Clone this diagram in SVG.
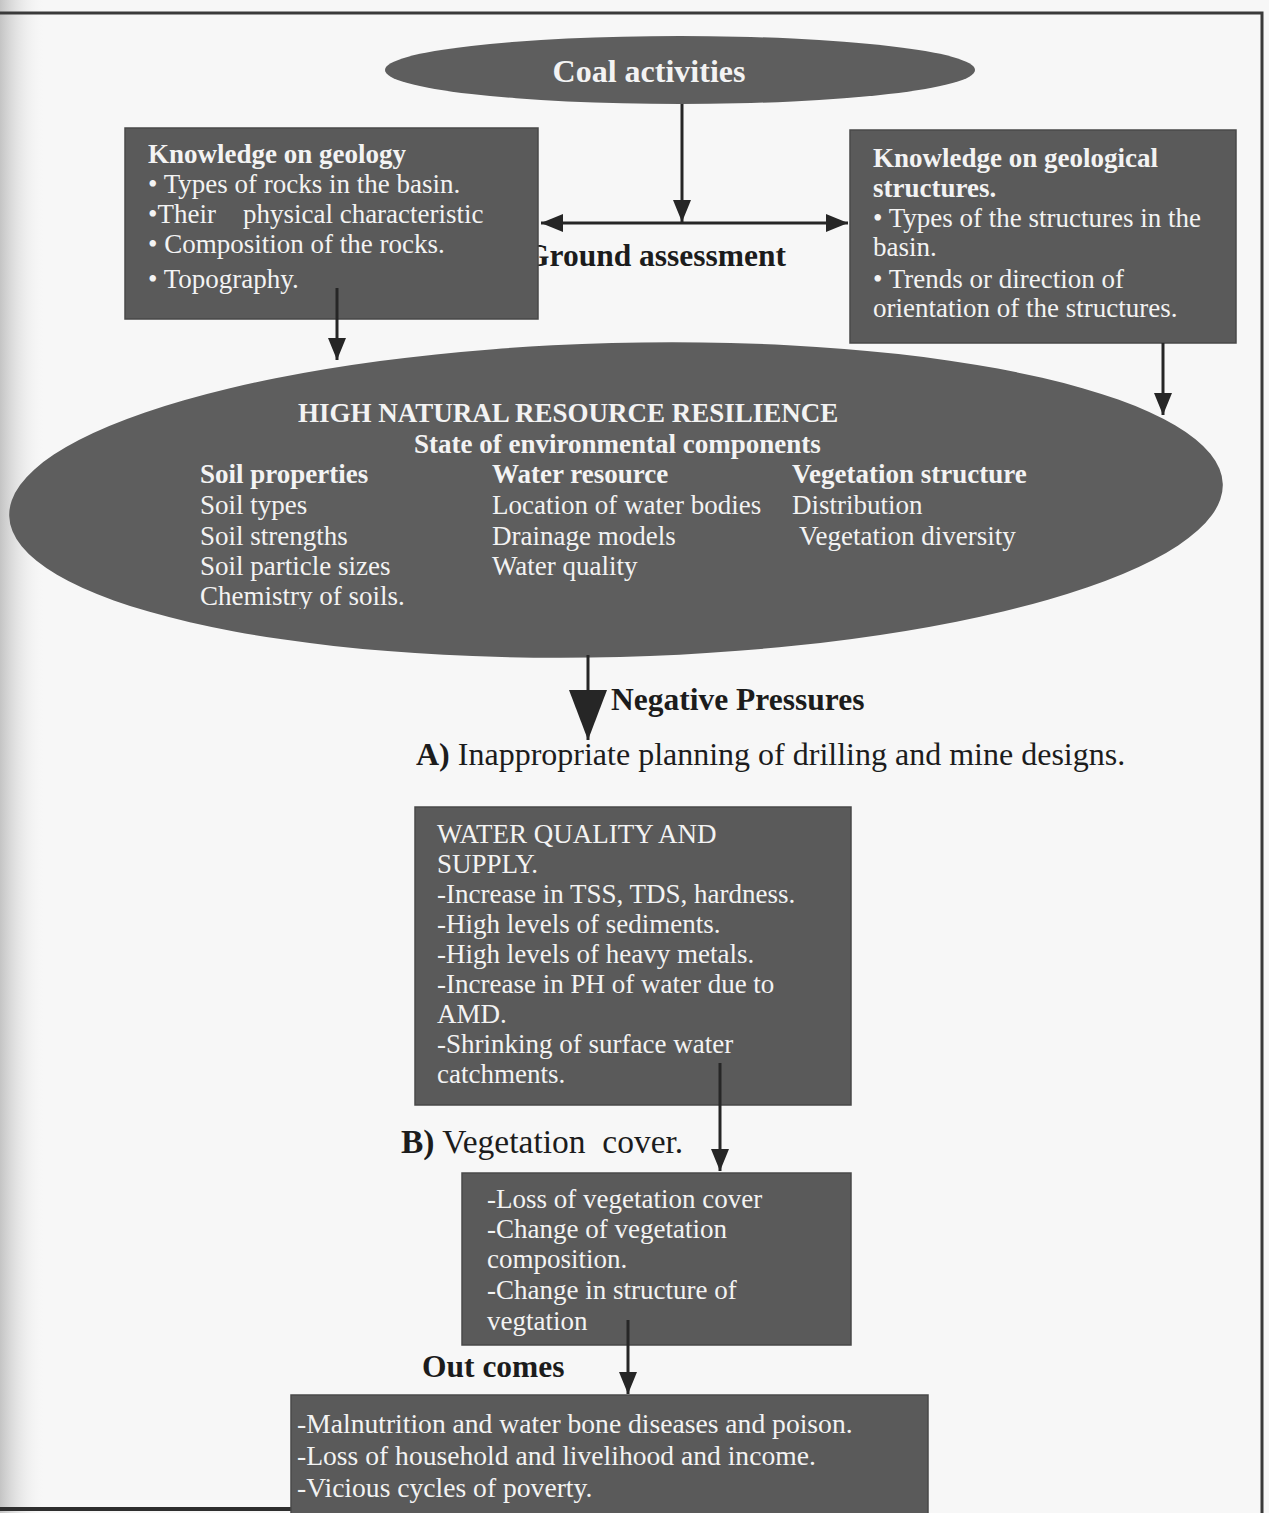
<svg xmlns="http://www.w3.org/2000/svg" width="1269" height="1513" viewBox="0 0 1269 1513">
<style>
 .t{font-family:"Liberation Serif","Times New Roman",serif;font-size:27px;fill:#f3f3f3}
 .b{font-weight:bold}
 .k{fill:#1c1c1c}
 .s31{font-size:31.5px}
 .s32{font-size:32px}
 .s33{font-size:33.5px}
 .s275{font-size:27.6px}
 .box{fill:#5a5a5a;stroke:#494949;stroke-width:1.5}
 .ell{fill:#5e5e5e}
 .ln{stroke:#262626;fill:none;stroke-width:3}
</style>
<defs>
 <marker id="ah" markerUnits="userSpaceOnUse" markerWidth="24" markerHeight="20" refX="22" refY="9" orient="auto-start-reverse"><path d="M0,0 L22,9 L0,18 z" fill="#262626"/></marker>
 <marker id="big" markerUnits="userSpaceOnUse" markerWidth="52" markerHeight="40" refX="50" refY="19" orient="auto"><path d="M0,0 L50,19 L0,38 z" fill="#262626"/></marker>
 <linearGradient id="shadow" x1="0" y1="0" x2="1" y2="0">
  <stop offset="0" stop-color="#c4c4c4"/>
  <stop offset="1" stop-color="#f7f7f7" stop-opacity="0"/>
 </linearGradient>
 <clipPath id="chem"><rect x="190" y="575" width="320" height="34"/></clipPath>
</defs>

<rect x="0" y="0" width="1269" height="1513" fill="#f7f7f7"/>
<rect x="0" y="0" width="45" height="1513" fill="url(#shadow)"/>
<path d="M0,13 H1262 V1513" fill="none" stroke="#3a3a3a" stroke-width="3"/>
<path d="M0,1509 H300" fill="none" stroke="#2e2e2e" stroke-width="4"/>

<g id="label-ground">
 <text class="t b k s31" x="525" y="266">Ground assessment</text>
</g>

<g id="node-coal">
 <ellipse class="ell" cx="680" cy="70" rx="295" ry="34"/>
 <text class="t b s32" x="649" y="82" text-anchor="middle">Coal activities</text>
</g>

<g id="node-geology">
 <rect class="box" x="125" y="128" width="413" height="191"/>
 <text class="t b" x="148" y="163">Knowledge on geology</text>
 <text class="t" x="148" y="193">• Types of rocks in the basin.</text>
 <text class="t" x="148" y="223" xml:space="preserve">•Their    physical characteristic</text>
 <text class="t" x="148" y="253">• Composition of the rocks.</text>
 <text class="t" x="148" y="288">• Topography.</text>
</g>

<g id="node-structures">
 <rect class="box" x="850" y="130" width="386" height="213"/>
 <text class="t b" x="873" y="167">Knowledge on geological</text>
 <text class="t b" x="873" y="197">structures.</text>
 <text class="t" x="873" y="227">• Types of the structures in the</text>
 <text class="t" x="873" y="256">basin.</text>
 <text class="t" x="873" y="288">• Trends or direction of</text>
 <text class="t" x="873" y="317">orientation of the structures.</text>
</g>

<g id="node-resilience">
 <ellipse class="ell" cx="616" cy="500" rx="607" ry="157" transform="rotate(-1.5 616 500)"/>
 <text class="t b" x="298" y="422">HIGH NATURAL RESOURCE RESILIENCE</text>
 <text class="t b" x="414" y="453">State of environmental components</text>
 <text class="t b" x="200" y="483">Soil properties</text>
 <text class="t" x="200" y="514">Soil types</text>
 <text class="t" x="200" y="545">Soil strengths</text>
 <text class="t" x="200" y="575">Soil particle sizes</text>
 <text class="t" x="200" y="605" clip-path="url(#chem)">Chemistry of soils.</text>
 <text class="t b" x="492" y="483">Water resource</text>
 <text class="t" x="492" y="514">Location of water bodies</text>
 <text class="t" x="492" y="545">Drainage models</text>
 <text class="t" x="492" y="575">Water quality</text>
 <text class="t b" x="792" y="483">Vegetation structure</text>
 <text class="t" x="792" y="514">Distribution</text>
 <text class="t" x="799" y="545">Vegetation diversity</text>
</g>

<g id="label-negative">
 <text class="t b k s31" x="611" y="710">Negative Pressures</text>
</g>

<g id="label-a">
 <text class="t k s32" x="416" y="765"><tspan font-weight="bold">A)</tspan> Inappropriate planning of drilling and mine designs.</text>
</g>

<g id="node-water">
 <rect class="box" x="415" y="807" width="436" height="298"/>
 <text class="t" x="437" y="843">WATER QUALITY AND</text>
 <text class="t" x="437" y="873">SUPPLY.</text>
 <text class="t" x="437" y="903">-Increase in TSS, TDS, hardness.</text>
 <text class="t" x="437" y="933">-High levels of sediments.</text>
 <text class="t" x="437" y="963">-High levels of heavy metals.</text>
 <text class="t" x="437" y="993">-Increase in PH of water due to</text>
 <text class="t" x="437" y="1023">AMD.</text>
 <text class="t" x="437" y="1053">-Shrinking of surface water</text>
 <text class="t" x="437" y="1083">catchments.</text>
</g>

<g id="label-b">
 <text class="t k s33" x="401" y="1153" xml:space="preserve"><tspan font-weight="bold">B)</tspan> Vegetation  cover.</text>
</g>

<g id="node-vegetation">
 <rect class="box" x="462" y="1173" width="389" height="172"/>
 <text class="t" x="487" y="1208">-Loss of vegetation cover</text>
 <text class="t" x="487" y="1238">-Change of vegetation</text>
 <text class="t" x="487" y="1268">composition.</text>
 <text class="t" x="487" y="1299">-Change in structure of</text>
 <text class="t" x="487" y="1330">vegtation</text>
</g>

<g id="label-outcomes">
 <text class="t b k s31" x="422" y="1377">Out comes</text>
</g>

<g id="node-outcomes">
 <rect class="box" x="291" y="1395" width="637" height="125"/>
 <text class="t s275" x="297" y="1433">-Malnutrition and water bone diseases and poison.</text>
 <text class="t s275" x="297" y="1465">-Loss of household and livelihood and income.</text>
 <text class="t s275" x="297" y="1497">-Vicious cycles of poverty.</text>
</g>

<g id="connectors">
 <line class="ln" x1="682" y1="104" x2="682" y2="222" stroke-width="4" marker-end="url(#ah)"/>
 <line class="ln" x1="541" y1="223" x2="848" y2="223" marker-start="url(#ah)" marker-end="url(#ah)"/>
 <line class="ln" x1="337" y1="288" x2="337" y2="360" marker-end="url(#ah)"/>
 <line class="ln" x1="1163" y1="343" x2="1163" y2="415" marker-end="url(#ah)"/>
 <line class="ln" x1="588" y1="655" x2="588" y2="740" stroke-width="7" marker-end="url(#big)"/>
 <line class="ln" x1="720" y1="1063" x2="720" y2="1171" marker-end="url(#ah)"/>
 <line class="ln" x1="628" y1="1320" x2="628" y2="1394" marker-end="url(#ah)"/>
</g>
</svg>
